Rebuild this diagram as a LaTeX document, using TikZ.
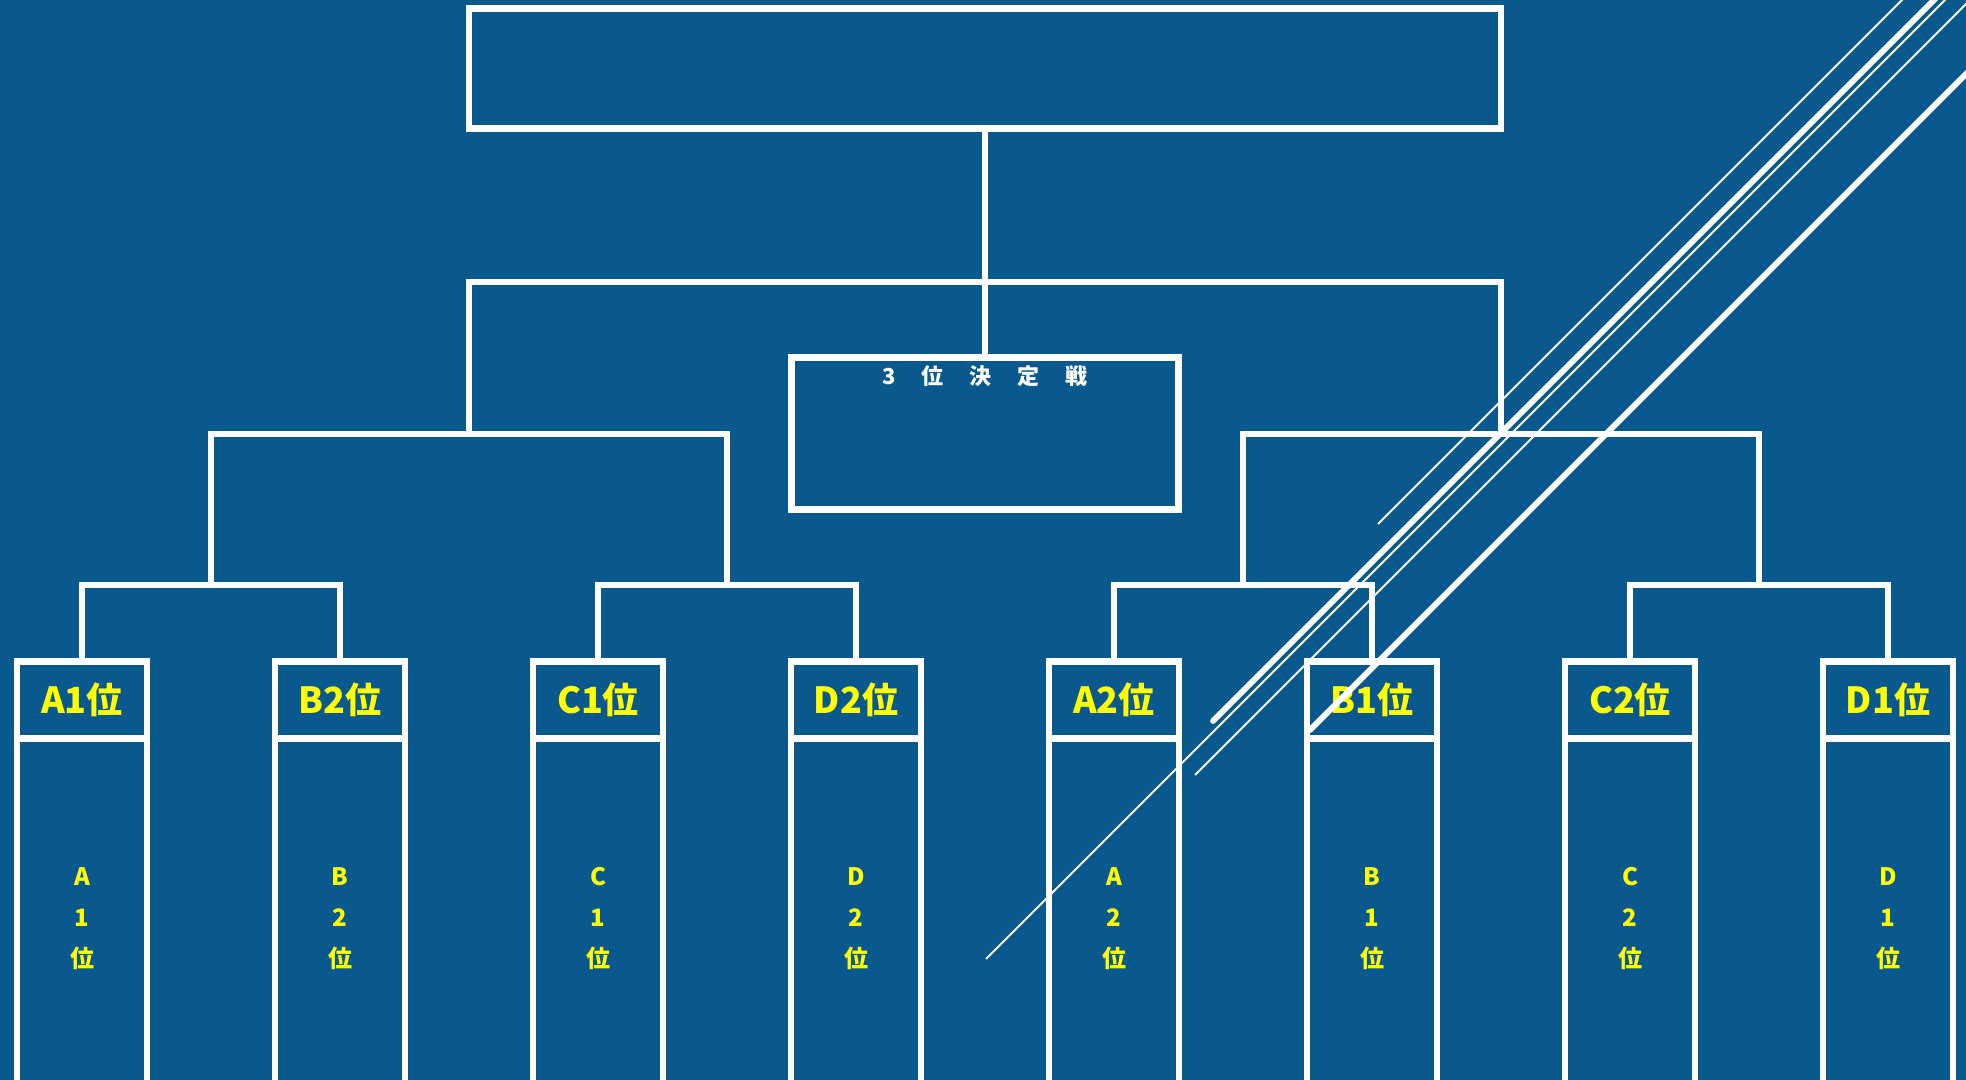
\documentclass[tikz,border=0pt]{standalone}
\usepackage{fontspec}
\setmainfont{Noto Sans CJK JP}
\definecolor{fundo}{RGB}{9,89,142}
\definecolor{amarelo}{RGB}{255,255,0}

\begin{document}
\begin{tikzpicture}[x=0.5pt, y=-0.5pt,
    linha/.style={draw=white, line width=3.2pt, line join=miter, outer sep=0pt},
    caixa/.style={linha, inner sep=0pt},
    cabeca/.style={caixa, minimum width=65pt, minimum height=38.5pt, text=amarelo, font=\fontsize{18}{18}\selectfont\bfseries},
    corpo/.style={caixa, anchor=north, minimum width=65pt, minimum height=180pt, align=center, text=amarelo, font=\fontsize{12}{20.5}\selectfont\bfseries},
    fina/.style={draw=white, line width=1pt},
    grossa/.style={draw=white, line width=2.9pt, line cap=round}]

    % Fundo
    \useasboundingbox (0,0) rectangle (1966,1080);
    \fill[fundo] (0,0) rectangle (1966,1080);
    \clip (0,0) rectangle (1966,1080);

    % Final e 3 lugar
    \node[caixa, minimum width=516pt, minimum height=60pt] (final) at (985,68.5) {};
    \node[caixa, minimum width=193.5pt, minimum height=76pt] (terceiro) at (985,433.5) {};
    \node[text=white, font=\fontsize{11}{11}\selectfont\bfseries] (terceirotxt) at (985,376)
        {3\hspace{13pt}位\hspace{13pt}決\hspace{13pt}定\hspace{13pt}戦};

    % Caixas das equipes
    \node[cabeca] (a1) at (82,700) {A1位};
    \node[corpo] (a1c) at (a1.south) {A\\1\\位};
    \node[cabeca] (b2) at (340,700) {B2位};
    \node[corpo] (b2c) at (b2.south) {B\\2\\位};
    \node[cabeca] (c1) at (598,700) {C1位};
    \node[corpo] (c1c) at (c1.south) {C\\1\\位};
    \node[cabeca] (d2) at (856,700) {D2位};
    \node[corpo] (d2c) at (d2.south) {D\\2\\位};
    \node[cabeca] (a2) at (1114,700) {A2位};
    \node[corpo] (a2c) at (a2.south) {A\\2\\位};
    \node[cabeca] (b1) at (1372,700) {B1位};
    \node[corpo] (b1c) at (b1.south) {B\\1\\位};
    \node[cabeca] (c2) at (1630,700) {C2位};
    \node[corpo] (c2c) at (c2.south) {C\\2\\位};
    \node[cabeca] (d1) at (1888,700) {D1位};
    \node[corpo] (d1c) at (d1.south) {D\\1\\位};

    % Pontos de juncao
    \coordinate (j1) at (211,585);
    \coordinate (j2) at (727,585);
    \coordinate (j3) at (1243,585);
    \coordinate (j4) at (1759,585);
    \coordinate (k1) at (469,434);
    \coordinate (k2) at (1501,434);
    \coordinate (f) at (985,282);

    % Chaves
    \draw[linha] (a1.north) |- (j1) -| (b2.north);
    \draw[linha] (c1.north) |- (j2) -| (d2.north);
    \draw[linha] (a2.north) |- (j3) -| (b1.north);
    \draw[linha] (c2.north) |- (j4) -| (d1.north);
    \draw[linha] (j1) |- (k1) -| (j2);
    \draw[linha] (j3) |- (k2) -| (j4);
    \draw[linha] (k1) |- (f) -| (k2);
    \draw[linha] (final.south) -- (terceiro.north);

    % Linhas diagonais
    \draw[fina] (1904,-2) -- (1378,524);
    \draw[grossa] (1936,-2) -- (1213,721);
    \draw[fina] (1947,-2) -- (986,959);
    \draw[fina] (1970,0) -- (1195,775);
    \draw[grossa] (1970,70) -- (1310,730);

\end{tikzpicture}
\end{document}
